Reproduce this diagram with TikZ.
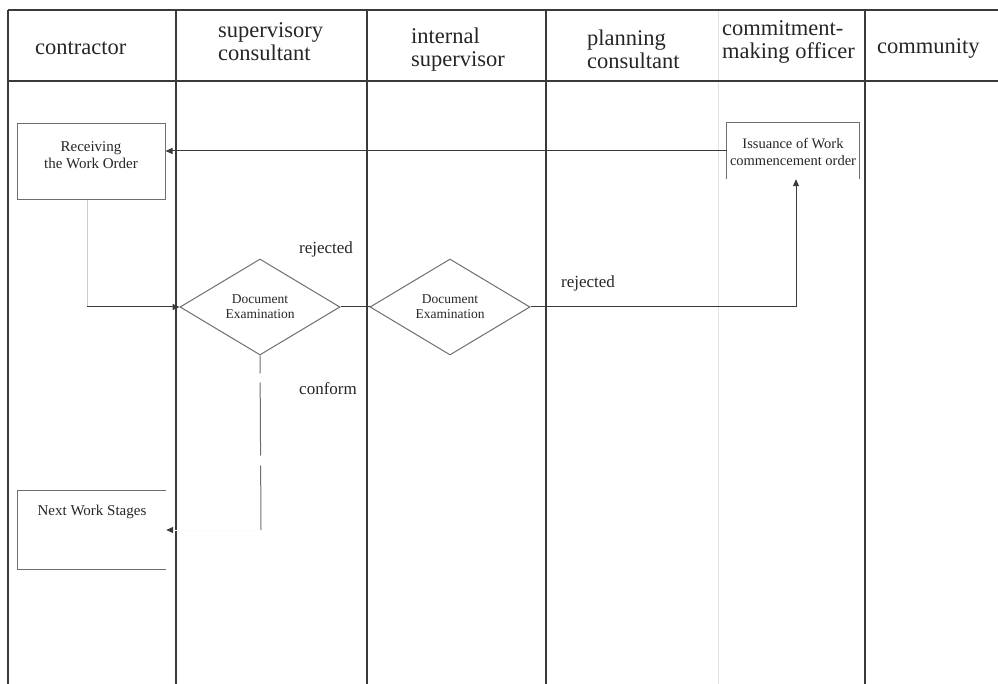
\documentclass[tikz,border=0pt]{standalone}
\usepackage{fontspec}
\setmainfont{Liberation Serif}
\usetikzlibrary{arrows.meta,shapes.geometric}
\definecolor{lane}{HTML}{3A3A3A}
\definecolor{boxline}{HTML}{6E6E6E}
\definecolor{faintlane}{HTML}{E2E2E2}
\definecolor{ink}{HTML}{262626}
\begin{document}
\begin{tikzpicture}[x=1pt,y=-1pt,
  laneline/.style={draw=lane,line width=1.1pt},
  headtext/.style={anchor=west,align=left,font=\fontsize{22.5}{23}\selectfont,text=ink,inner sep=0pt},
  stepbox/.style={draw=boxline,line width=1pt,minimum width=148pt,minimum height=76pt,inner sep=0pt},
  boxtext/.style={align=center,font=\fontsize{15}{17}\selectfont,text=ink,inner sep=0pt},
  decision/.style={diamond,draw=boxline,line width=1pt,shape aspect=1.67,minimum width=160pt,
    minimum height=96pt,inner sep=0pt,align=center,text=ink,font=\fontsize{13.5}{15}\selectfont},
  tip/.style={-{Triangle[length=7pt,width=6pt]}},
  flow/.style={draw=lane,line width=1pt,tip},
  flowline/.style={draw=lane,line width=1pt},
  note/.style={font=\fontsize{17}{19}\selectfont,text=ink,inner sep=0pt}
]
\useasboundingbox (0,0) rectangle (998,684);

% swimlane grid
\draw[draw=faintlane,line width=1pt] (718,10) -- (718,684);
\draw[laneline] (8,10) -- (998,10);
\draw[laneline] (8,81) -- (998,81);
\foreach \x in {8,176,367,546,865} \draw[laneline] (\x,10) -- (\x,684);

% lane headers
\node[headtext] (hcon) at (35,48) {contractor};
\node[headtext] (hsup) at (218,41.5) {supervisory\\consultant};
\node[headtext] (hint) at (411,49.5) {internal\\supervisor};
\node[headtext] (hpla) at (587,49) {planning\\consultant};
\node[headtext] (hcmo) at (722,41.5) {commitment-\\making officer};
\node[headtext] (hcom) at (877,48) {community};

% steps
\node[stepbox] (rcv) at (91,162) {};
\node[boxtext] (rcvt) at (91,155) {Receiving\\the Work Order};

\node[minimum width=132pt,minimum height=56pt,inner sep=0pt] (iss) at (793,151) {};
\draw[draw=boxline,line width=1pt] (iss.south west) -- (iss.north west) -- (iss.north east) -- (iss.south east);
\node[boxtext,font=\fontsize{14.5}{17}\selectfont] (isst) at (793,151.5) {Issuance of Work\\commencement order};

\node[minimum width=148pt,minimum height=78pt,inner sep=0pt] (nxt) at (92,530) {};
\draw[draw=boxline,line width=1pt] (nxt.north east) -- (nxt.north west) -- (nxt.south west) -- (nxt.south east);
\node[boxtext] (nxtt) at (92,512) {Next Work Stages};

\node[decision] (d1) at (260,307) {Document\\Examination};
\node[decision] (d2) at (450,307) {Document\\Examination};

\coordinate (cnf) at (261,530);

% connectors
\draw[flow] (iss.west) -- (rcv.east |- iss.west);
\draw[draw=faintlane!80!gray,line width=1pt] ([xshift=-4pt]rcv.south) -- ([xshift=-4pt]rcv.south |- d1.west);
\draw[flow] ([xshift=-4pt]rcv.south |- d1.west) -- (d1.west);
\draw[flowline] (d1.east) -- (d2.west);
\draw[flow] (d2.east) -| ([xshift=3pt]iss.south);
\draw[draw=boxline,line width=1pt,dash pattern=on 18pt off 9pt on 73pt off 10pt on 65pt] (d1.south) -- (cnf);
\draw[draw=faintlane!15,line width=1pt,-{Triangle[length=7pt,width=6pt,color=lane]}] (cnf) -- (nxt.east);

% branch labels
\node[note] (rj1) at (326,249) {rejected};
\node[note] (rj2) at (588,283) {rejected};
\node[note] (cf) at (328,389) {conform};
\end{tikzpicture}
\end{document}
